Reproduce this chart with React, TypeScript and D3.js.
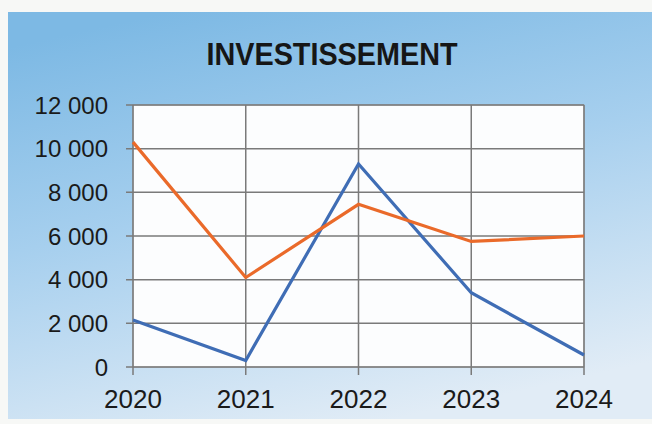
import * as d3 from 'd3';

const years = ['2020', '2021', '2022', '2023', '2024'];
const orangeValues = [10300, 4100, 7450, 5750, 6000];
const blueValues = [2150, 300, 9300, 3400, 550];
const yTicks = [0, 2000, 4000, 6000, 8000, 10000, 12000];

const W = 652;
const H = 424;
const plot = { left: 133, right: 584, top: 105, bottom: 367 };

const fmt = (v: number) => d3.format(',')(v).replace(/,/g, ' ');

export default function App() {
  const x = d3.scalePoint<string>().domain(years).range([plot.left, plot.right]);
  const y = d3.scaleLinear().domain([0, 12000]).range([plot.bottom, plot.top]);

  const line = d3
    .line<number>()
    .x((_, i) => x(years[i]) as number)
    .y((d) => y(d));

  const font = '"Liberation Sans", Arial, sans-serif';

  return (
    <svg
      width={W}
      height={H}
      viewBox={`0 0 ${W} ${H}`}
      style={{ position: 'absolute', left: 0, top: 0, display: 'block' }}
    >
      <defs>
        <linearGradient id="bg" x1="0.25" y1="0" x2="0.6" y2="1">
          <stop offset="0%" stopColor="#7db9e4" />
          <stop offset="45%" stopColor="#a6cfee" />
          <stop offset="100%" stopColor="#e1ecf6" />
        </linearGradient>
      </defs>
      <rect x={0} y={0} width={W} height={H} fill="#f7f8f6" />
      <rect x={8} y={12} width={W - 8} height={407} fill="url(#bg)" />

      <text
        x={332}
        y={65}
        textAnchor="middle"
        fontFamily={font}
        fontWeight="bold"
        fontSize={32}
        fill="#161616"
        textLength={251}
        lengthAdjust="spacingAndGlyphs"
      >
        INVESTISSEMENT
      </text>

      <rect
        x={plot.left}
        y={plot.top}
        width={plot.right - plot.left}
        height={plot.bottom - plot.top}
        fill="#fcfdfe"
        stroke="#9a9a9a"
        strokeWidth={1}
      />

      {yTicks.map((t) => (
        <g key={t}>
          <line
            x1={plot.left - 7}
            x2={plot.right}
            y1={y(t)}
            y2={y(t)}
            stroke="#7a7a7a"
            strokeWidth={1.5}
          />
          <text
            x={108}
            y={y(t) + 8.5}
            textAnchor="end"
            fontFamily={font}
            fontSize={24}
            fill="#1a1a1a"
          >
            {fmt(t)}
          </text>
        </g>
      ))}

      {years.map((yr) => (
        <g key={yr}>
          <line
            x1={x(yr)}
            x2={x(yr)}
            y1={plot.top}
            y2={plot.bottom + 8}
            stroke="#7a7a7a"
            strokeWidth={1.5}
          />
          <text
            x={x(yr)}
            y={408}
            textAnchor="middle"
            fontFamily={font}
            fontSize={26}
            fill="#1a1a1a"
          >
            {yr}
          </text>
        </g>
      ))}

      <path d={line(blueValues) ?? ''} fill="none" stroke="#3f6db5" strokeWidth={3.2} strokeLinejoin="miter" />
      <path d={line(orangeValues) ?? ''} fill="none" stroke="#ea6a2a" strokeWidth={3.2} strokeLinejoin="miter" />
    </svg>
  );
}
